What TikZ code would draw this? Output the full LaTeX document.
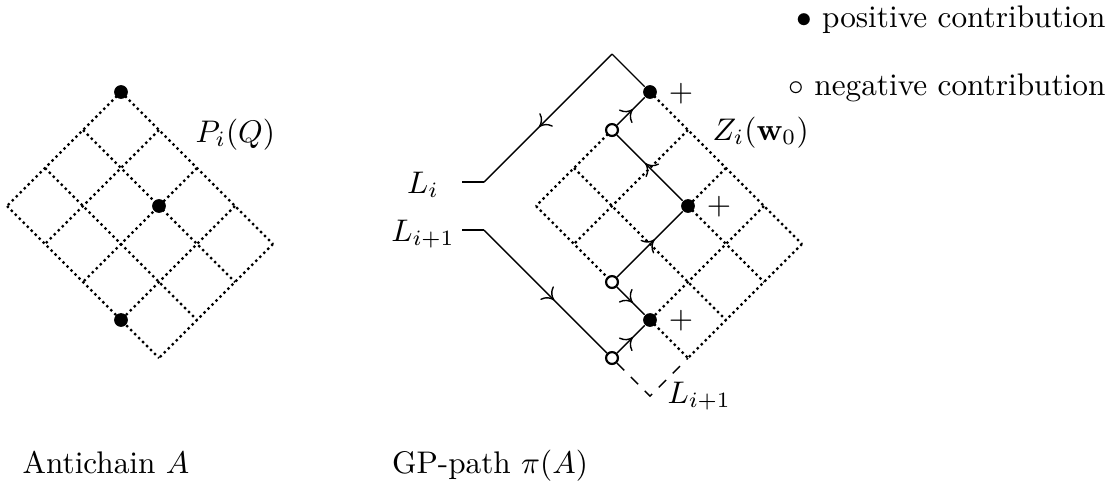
\documentclass[tikz,border=0pt]{standalone}
\usetikzlibrary{decorations.markings,arrows.meta}
\begin{document}
\begin{tikzpicture}[x=0.32pt,y=-0.32pt,
  gridline/.style={line width=0.75pt, dash pattern=on 0.75pt off 1.05pt},
  fdot/.style={circle, fill=black, inner sep=0pt, minimum size=4.4pt},
  odot/.style={circle, draw=black, fill=white, line width=0.7pt, inner sep=0pt, minimum size=3.8pt},
  gpline/.style={line width=0.45pt},
  stub/.style={line width=0.8pt},
  midarrow/.style={postaction={decorate}, decoration={markings, mark=at position 0.57 with {\arrow{Computer Modern Rightarrow[length=3.4pt,width=6pt,line width=0.45pt]}}}},
  dashline/.style={line width=0.45pt, dash pattern=on 3.3pt off 3pt},
  lbl/.style={inner sep=0pt}
]
\useasboundingbox (0,0) rectangle (1117,492);

% left grid (4 x 3 cells)
\foreach \i in {0,...,4} \draw[gridline] (121+38*\i, 92+38*\i) -- ++(-114,114);
\foreach \j in {0,...,3} \draw[gridline] (121-38*\j, 92+38*\j) -- ++(152,152);
\node[fdot] (la) at (121,92) {};
\node[fdot] (lb) at (159,206) {};
\node[fdot] (lc) at (121,320) {};
\node[lbl, anchor=base west] (pq) at (195,142) {$P_i(Q)$};

% right grid: dotted pieces not covered by the path
% each entry: i1/j1/i2/j2 (grid position (i,j) -> (650+38(i-j), 92+38(i+j)))
\foreach \ia/\ja/\ib/\jb in {0/1/0/3, 1/0/1/3, 2/0/2/1, 3/0/3/3, 4/0/4/3,
                             0/0/4/0, 2/1/4/1, 0/2/4/2, 0/3/2/3, 3/3/4/3}
  \draw[gridline] (650+38*\ia-38*\ja, 92+38*\ia+38*\ja) -- (650+38*\ib-38*\jb, 92+38*\ib+38*\jb);

\node[fdot] (f00) at (650,92) {};
\node[odot] (o01) at (612,130) {};
\node[fdot] (f21) at (688,206) {};
\node[odot] (o23) at (612,282) {};
\node[fdot] (f33) at (650,320) {};
\node[odot] (o34) at (612,358) {};

\coordinate (apex) at (612,54);
\coordinate (ci) at (484,182);
\coordinate (ei) at (462,182);
\coordinate (cj) at (484,230);
\coordinate (ej) at (462,230);
\coordinate (vd) at (650,396);
\coordinate (bot) at (688,358);

\draw[gpline] (f00) -- (apex);
\draw[gpline, midarrow] (apex) -- (ci);
\draw[stub] (ci) -- (ei);
\draw[stub] (ej) -- (cj);
\draw[gpline, midarrow] (cj) -- (o34);
\draw[gpline, midarrow] (o34) -- (f33);
\draw[gpline, midarrow] (o23) -- (f33);
\draw[gpline, midarrow] (o23) -- (f21);
\draw[gpline, midarrow] (f21) -- (o01);
\draw[gpline, midarrow] (o01) -- (f00);
\draw[dashline] (o34) -- (vd) -- (bot);

\node[lbl] (p1) at (681,94) {$+$};
\node[lbl] (p2) at (719,207) {$+$};
\node[lbl] (p3) at (681,321) {$+$};
\node[lbl, anchor=base west] (zl) at (712,140) {$Z_i(\mathbf{w}_0)$};
\node[lbl, anchor=base] (li) at (423,193) {$L_i$};
\node[lbl, anchor=base] (lj) at (423,241) {$L_{i+1}$};
\node[lbl, anchor=base west] (lk) at (667,403) {$L_{i+1}$};

\node[lbl, anchor=base] (ca) at (106,473) {Antichain $A$};
\node[lbl, anchor=base] (cb) at (490,473) {GP-path $\pi(A)$};

\node[lbl, anchor=base east] (pos) at (1106,27) {$\bullet$ positive contribution};
\node[lbl, anchor=base east] (neg) at (1106,95) {$\circ$ negative contribution};
\end{tikzpicture}
\end{document}
